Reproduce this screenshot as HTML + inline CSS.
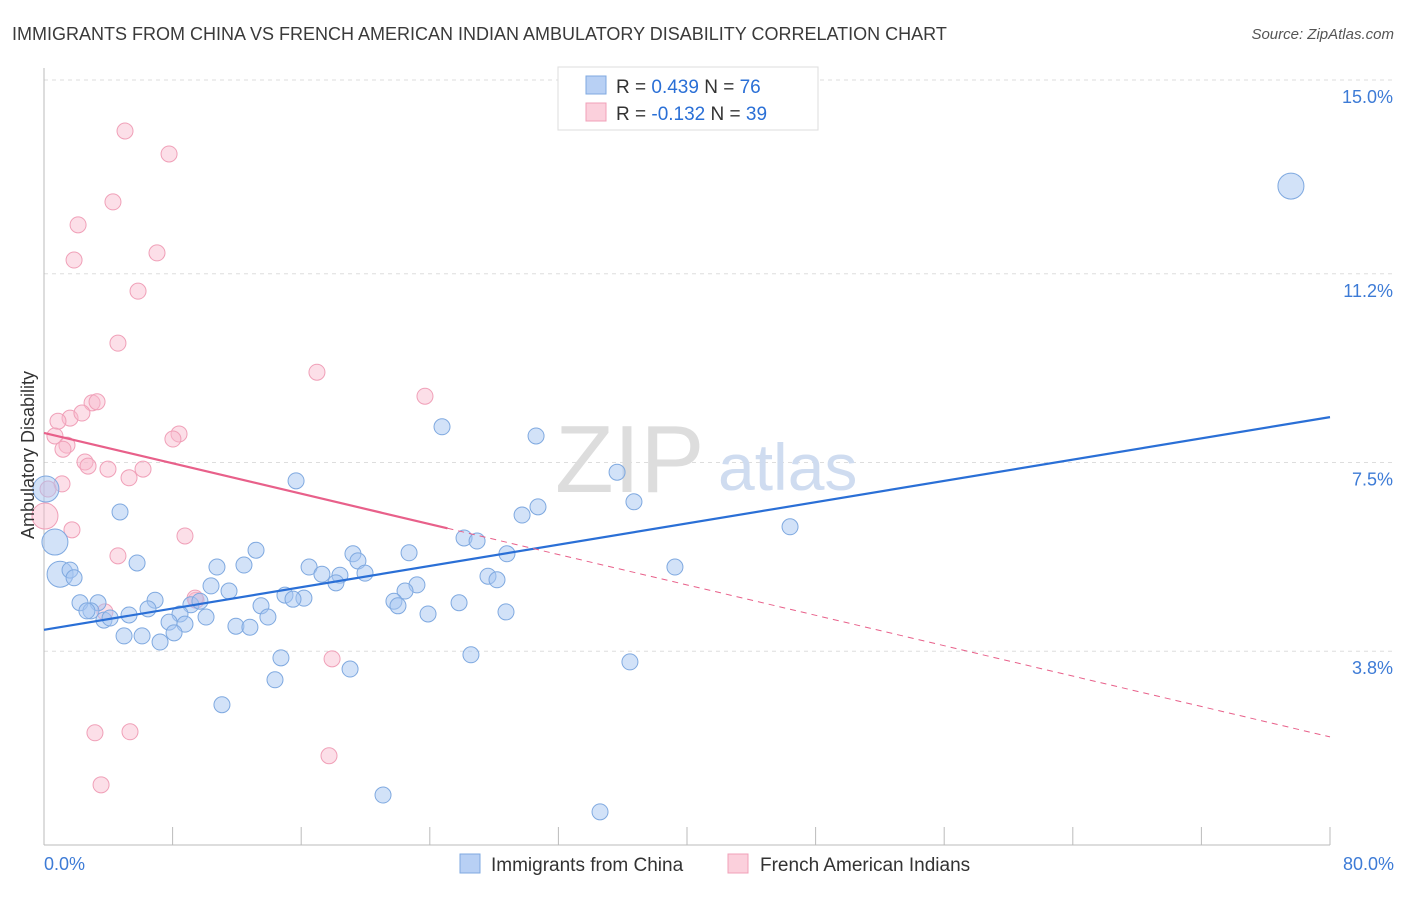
<!DOCTYPE html>
<html><head><meta charset="utf-8"><style>
body{margin:0;background:#fff;font-family:"Liberation Sans",sans-serif;}
svg text{font-family:"Liberation Sans",sans-serif;}
</style></head><body>
<svg id="chart" width="1406" height="892" xmlns="http://www.w3.org/2000/svg">
<text x="12" y="40" font-size="18" fill="#3a3a3a">IMMIGRANTS FROM CHINA VS FRENCH AMERICAN INDIAN AMBULATORY DISABILITY CORRELATION CHART</text>
<text x="1394" y="39" font-size="15" fill="#555" text-anchor="end" font-style="italic">Source: ZipAtlas.com</text>
<g id="grid"></g>
<g id="axes"></g>
<text x="555" y="492" font-size="96" fill="#ddd" font-family="Liberation Serif">ZIP</text>
<text x="718" y="490" font-size="66" fill="#cfdcf0">atlas</text>
<g id="pts"></g>
<g id="lines"></g>
<text transform="translate(34,455) rotate(-90)" font-size="18" fill="#333" text-anchor="middle">Ambulatory Disability</text>
<text x="44" y="870" font-size="18" fill="#3d7bd6">0.0%</text>
<text x="1394" y="870" font-size="18" fill="#3d7bd6" text-anchor="end">80.0%</text>
<g>
<rect x="558" y="67" width="260" height="63" fill="#fff" stroke="#ddd"/>
<rect x="586" y="76" width="20" height="18" fill="#b8d0f4" stroke="#7fa9e0"/>
<rect x="586" y="103" width="20" height="18" fill="#fbd0dc" stroke="#f0a0b8"/>
<text x="616" y="93" font-size="19" fill="#333">R = <tspan fill="#2a6fd6">0.439</tspan>   N = <tspan fill="#2a6fd6">76</tspan></text>
<text x="616" y="120" font-size="19" fill="#333">R = <tspan fill="#2a6fd6">-0.132</tspan>   N = <tspan fill="#2a6fd6">39</tspan></text>
</g>
<g>
<rect x="460" y="854" width="20" height="19" fill="#b8d0f4" stroke="#7fa9e0"/>
<text x="491" y="871" font-size="19" fill="#333">Immigrants from China</text>
<rect x="728" y="854" width="20" height="19" fill="#fbd0dc" stroke="#f0a0b8"/>
<text x="760" y="871" font-size="19" fill="#333">French American Indians</text>
</g>
</svg>
<script>
const yTicks=[15.0,11.2,7.5,3.8];
const yTickLabels=["15.0%","11.2%","7.5%","3.8%"];
const xTicks=[0,8,16,24,32,40,48,56,64,72,80];
const blueX=[77.57,24.76,30.61,35.65,15.68,36.70,30.73,29.74,4.73,46.41,26.13,26.94,0.68,13.19,22.71,19.22,28.80,5.79,10.76,12.44,16.49,19.53,39.25,19.97,1.00,1.62,1.87,17.29,18.41,27.62,28.18,18.16,10.39,11.51,23.20,22.46,14.99,16.17,15.49,6.91,2.24,3.36,21.77,22.02,25.82,13.50,9.14,9.70,6.47,2.92,2.67,8.46,3.73,5.29,10.08,13.93,23.89,28.74,7.78,8.77,11.94,12.81,8.09,4.98,6.10,7.22,14.74,26.56,36.45,19.04,14.37,11.07,21.09,34.59,0.12,4.11];
const blueY=[12.92,8.20,8.02,7.31,7.14,6.73,6.63,6.47,6.53,6.24,6.02,5.96,5.94,5.78,5.73,5.71,5.71,5.53,5.45,5.49,5.45,5.57,5.45,5.33,5.31,5.39,5.24,5.31,5.29,5.27,5.20,5.14,5.08,4.98,5.10,4.98,4.90,4.84,4.82,4.80,4.75,4.75,4.78,4.69,4.75,4.69,4.71,4.78,4.63,4.59,4.59,4.53,4.41,4.51,4.47,4.47,4.53,4.57,4.37,4.33,4.29,4.27,4.16,4.10,4.10,3.98,3.67,3.73,3.59,3.45,3.24,2.75,0.98,0.65,6.98,4.45];
const blueBig=[12,24,0,74];
const pinkX=[5.04,7.78,4.29,2.12,7.03,1.87,5.85,4.60,16.98,23.70,2.99,3.30,1.62,2.36,0.87,8.40,8.02,0.68,1.43,1.18,2.55,2.74,3.98,6.16,5.29,1.12,0.25,0.06,1.74,8.77,4.60,3.79,9.46,17.92,3.17,5.35,17.73,3.55,9.40];
const pinkY=[14.00,13.55,12.61,12.16,11.61,11.47,10.86,9.84,9.27,8.80,8.67,8.69,8.37,8.47,8.31,8.06,7.96,8.02,7.84,7.76,7.51,7.43,7.37,7.37,7.20,7.08,6.98,6.45,6.18,6.06,5.67,4.57,4.80,3.65,2.20,2.22,1.75,1.18,4.84];
const pinkBig=[27];
const blueTrend=[4.22,8.39];
const pinkTrend=[8.08,2.12];
const pinkSolidEnd=25.1;
const X0=44,X1=1330,Y0=845,Y1=80;
const sx=v=>X0+(v/80)*(X1-X0);
const sy=v=>Y0-(v/15)*(Y0-Y1);
const NS="http://www.w3.org/2000/svg";
function mk(t,a,p){const e=document.createElementNS(NS,t);for(const k in a)e.setAttribute(k,a[k]);p.appendChild(e);return e;}
const grid=document.getElementById('grid'),axes=document.getElementById('axes');
yTicks.forEach((t,i)=>{
 const g=mk('line',{x1:X0,x2:1394,y1:sy(t),y2:sy(t),stroke:'#ddd','stroke-dasharray':'4,4'},grid);
 
 
 const l=mk('text',{x:1393,y:sy(t)+23,'font-size':18,fill:'#3d7bd6','text-anchor':'end'},axes);
 l.textContent=yTickLabels[i];
 
 
});
mk('line',{x1:X0,x2:X0,y1:68,y2:Y0,stroke:'#bbb'},axes);
mk('line',{x1:X0,x2:X1,y1:Y0,y2:Y0,stroke:'#bbb'},axes);
xTicks.forEach(t=>{
 const k=mk('line',{x1:sx(t),x2:sx(t),y1:Y0,y2:Y0-18,stroke:'#bbb'},axes);
 
 
});
const pts=document.getElementById('pts');
pinkX.forEach((x,i)=>{
 const c=mk('circle',{cx:sx(x),cy:sy(pinkY[i]),r:pinkBig.includes(i)?13:8,fill:'rgba(248,185,205,0.45)',stroke:'#f0a0b8','stroke-width':1},pts);
 
 
});
blueX.forEach((x,i)=>{
 const c=mk('circle',{cx:sx(x),cy:sy(blueY[i]),r:blueBig.includes(i)?13:8,fill:'rgba(165,198,242,0.5)',stroke:'#7fa9e0','stroke-width':1},pts);
 
 
});
const lines=document.getElementById('lines');
const bl=mk('line',{x1:sx(0),y1:sy(blueTrend[0]),x2:sx(80),y2:sy(blueTrend[1]),stroke:'#2a6fd6','stroke-width':2.2},lines);


const pAt=x=>pinkTrend[0]+(pinkTrend[1]-pinkTrend[0])*x/80;
const pl=mk('line',{x1:sx(0),y1:sy(pAt(0)),x2:sx(pinkSolidEnd),y2:sy(pAt(pinkSolidEnd)),stroke:'#e8608a','stroke-width':2.2},lines);


const pd=mk('line',{x1:sx(pinkSolidEnd),y1:sy(pAt(pinkSolidEnd)),x2:sx(80),y2:sy(pAt(80)),stroke:'#e8608a','stroke-width':1,'stroke-dasharray':'6,5'},lines);


</script>
</body></html>
